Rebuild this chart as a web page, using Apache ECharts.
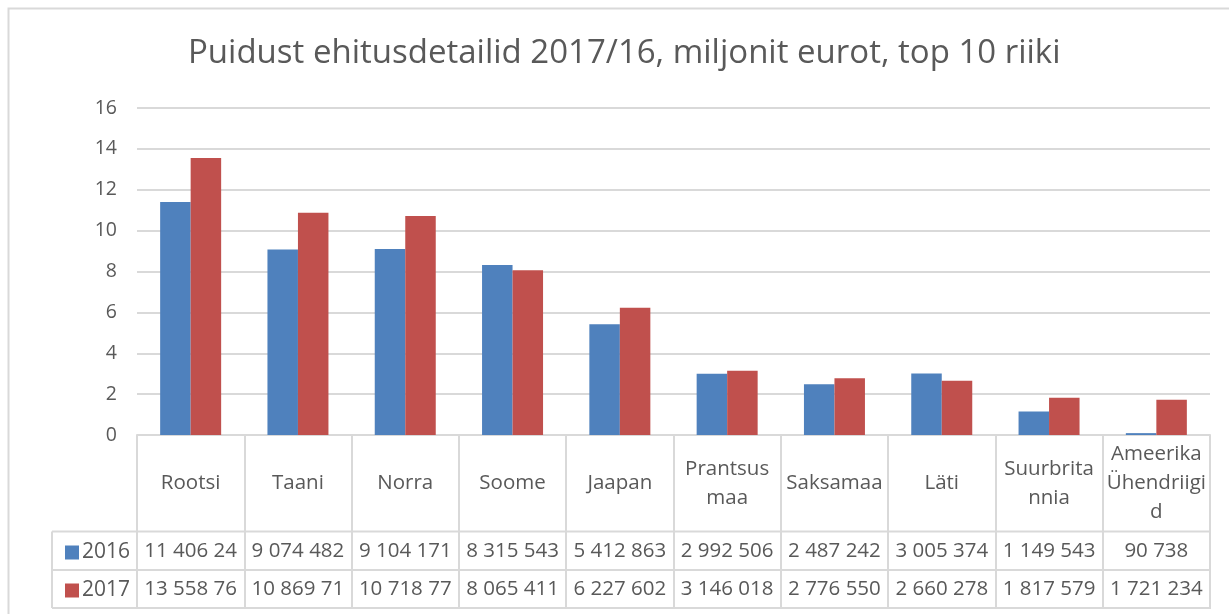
<!DOCTYPE html>
<html>
<head>
<meta charset="utf-8">
<script src="https://cdn.jsdelivr.net/npm/echarts@6/dist/echarts.min.js"></script>
<style>
html,body{margin:0;padding:0;background:#fff;}
#c{width:1229px;height:614px;}
</style>
</head>
<body>
<div id="c"></div>
<script>
// ---- data ----
const titleText = 'Puidust ehitusdetailid 2017/16, miljonit eurot, top 10 riiki';
const categories = ['Rootsi','Taani','Norra','Soome','Jaapan','Prantsus\nmaa','Saksamaa','Läti','Suurbrita\nnnia','Ameerika\nÜhendriigi\nd'];
const seriesNames = ['2016','2017'];
const values2016 = [11.406, 9.074, 9.104, 8.316, 5.413, 2.993, 2.487, 3.005, 1.150, 0.091];
const values2017 = [13.559, 10.870, 10.719, 8.065, 6.228, 3.146, 2.777, 2.660, 1.818, 1.721];
const table2016 = ['11 406 24','9 074 482','9 104 171','8 315 543','5 412 863','2 992 506','2 487 242','3 005 374','1 149 543','90 738'];
const table2017 = ['13 558 76','10 869 71','10 718 77','8 065 411','6 227 602','3 146 018','2 776 550','2 660 278','1 817 579','1 721 234'];
const yTicks = [0, 2, 4, 6, 8, 10, 12, 14, 16];

// ---- style ----
const FONT = '"Open Sans", "Noto Sans", sans-serif';
const BLUE = '#4F81BD', RED = '#C0504D';
const LINE = '#d9d9d9', TXT = '#595959';

const gridLeft = 137, gridRight = 1210, gridTop = 108, gridBottomY = 435;
const rowY = [531.5, 570, 608]; // table horizontal lines
const tableLeft = 52;

const chart = echarts.init(document.getElementById('c'), null, {renderer: 'canvas'});

const option = {
  backgroundColor: '#fff',
  animation: false,
  title: {
    text: titleText,
    left: 183,
    top: 32,
    textStyle: {fontFamily: FONT, fontSize: 33, fontWeight: 'normal', color: TXT}
  },
  legend: {
    data: seriesNames,
    orient: 'vertical',
    left: 60,
    top: 537,
    itemWidth: 14,
    itemHeight: 14,
    itemGap: 17,
    icon: 'rect',
    textStyle: {fontFamily: FONT, fontSize: 21, color: TXT, lineHeight: 21, padding: [0,0,0,-2]}
  },
  grid: {left: gridLeft, right: 1229 - gridRight, top: gridTop, bottom: 614 - gridBottomY, containLabel: false},
  xAxis: {
    type: 'category',
    data: categories,
    axisLine: {lineStyle: {color: LINE, width: 2}},
    axisTick: {show: true, length: rowY[2] - gridBottomY, lineStyle: {color: LINE, width: 2}},
    axisLabel: {show: false}
  },
  yAxis: {
    type: 'value',
    min: yTicks[0],
    max: yTicks[yTicks.length - 1],
    interval: yTicks[1] - yTicks[0],
    axisLine: {show: false},
    axisTick: {show: false},
    splitLine: {lineStyle: {color: LINE, width: 2}},
    axisLabel: {fontFamily: FONT, fontSize: 19.5, color: TXT, margin: 20}
  },
  series: [
    {name: seriesNames[0], type: 'bar', data: values2016, barWidth: 30.5, barGap: '0%', itemStyle: {color: BLUE}},
    {name: seriesNames[1], type: 'bar', data: values2017, barWidth: 30.5, barGap: '0%', itemStyle: {color: RED}}
  ]
};
chart.setOption(option);

// ---- data table drawn as graphics, positioned from the category axis ----
const elements = [];
// outer chart border
elements.push({type: 'rect', shape: {x: 8.5, y: 8.5, width: 1240, height: 640}, style: {fill: null, stroke: LINE, lineWidth: 2}, silent: true});
// horizontal table lines
rowY.forEach(y => {
  elements.push({type: 'line', shape: {x1: tableLeft, y1: y, x2: gridRight + 1, y2: y}, style: {stroke: LINE, lineWidth: 2}, silent: true});
});
// left border of legend column
elements.push({type: 'line', shape: {x1: tableLeft, y1: rowY[0], x2: tableLeft, y2: rowY[2]}, style: {stroke: LINE, lineWidth: 2}, silent: true});

const headerMid = (gridBottomY + rowY[0]) / 2;
const row1Mid = (rowY[0] + rowY[1]) / 2;
const row2Mid = (rowY[1] + rowY[2]) / 2;
const cellText = (x, y, txt) => ({
  type: 'text', x: x, y: y, silent: true,
  style: {text: txt, fontFamily: FONT, fontSize: 20.5, fill: TXT, align: 'center', verticalAlign: 'middle', lineHeight: 29}
});
categories.forEach((c, i) => {
  const x = chart.convertToPixel({xAxisIndex: 0}, i);
  elements.push(cellText(x, headerMid, c));
  elements.push(cellText(x, row1Mid, table2016[i]));
  elements.push(cellText(x, row2Mid, table2017[i]));
});
chart.setOption({graphic: {elements: elements}});
</script>
</body>
</html>
